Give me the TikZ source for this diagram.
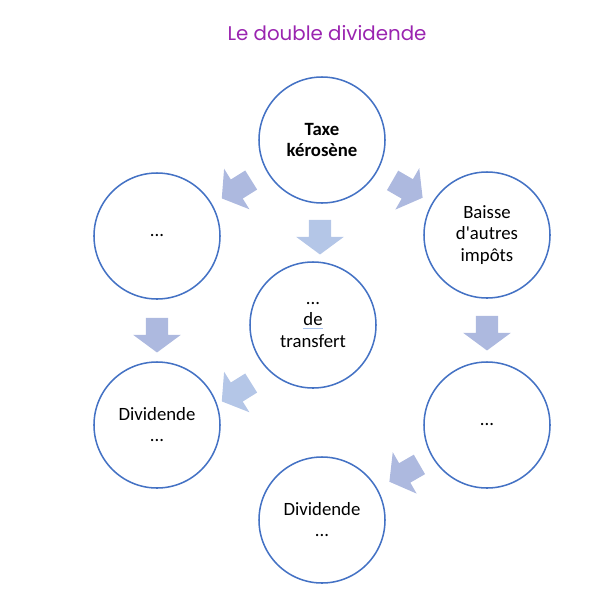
\documentclass[tikz,border=0pt]{standalone}
\usepackage{fontspec}
\defaultfontfeatures[\rmfamily,\sffamily]{}
\setmainfont{Carlito}
\newfontfamily\titrefont{Poppins}
\usetikzlibrary{shapes.arrows}
\definecolor{bord}{HTML}{4472C4}
\definecolor{flecheA}{HTML}{ADB9DF}
\definecolor{flecheB}{HTML}{B4C6E7}
\definecolor{titre}{HTML}{9A24B0}
\definecolor{souligne}{HTML}{A9C4EE}
\tikzset{
	etape/.style={draw=bord,line width=1.3pt,circle,minimum size=3.78cm,inner sep=0pt,align=center,
		font=\fontsize{16}{18}\selectfont},
	fleche/.style={single arrow,draw=none,fill=flecheA,inner xsep=0pt,inner ysep=0.33cm,
		minimum height=1.04cm,single arrow head extend=0.38cm,single arrow tip angle=107},
	claire/.style={fill=flecheB}
}

\begin{document}
\begin{tikzpicture}[x=0.03cm,y=-0.03cm]
            \useasboundingbox (0,0) rectangle (597,610);
            \node[font=\titrefont\fontsize{16.9}{20}\selectfont,text=titre] (titre) at (327,33) {Le double dividende};
            \node[etape,font=\fontsize{16}{18}\selectfont\bfseries] (taxe) at (322,140) {Taxe\\kérosène};
            \node[etape] (gauche) at (157,236) {...};
            \node[etape] (baisse) at (487,235) {Baisse\\d'autres\\impôts};
            \node[etape] (transfert) at (313,325) {...\\{\color{souligne}\underline{\color{black}de}}\\transfert};
            \node[etape] (divg) at (157,425) {Dividende\\...};
            \node[etape] (droite) at (487,425) {...};
            \node[etape] (divb) at (322,520) {Dividende\\...};
            \node[fleche,rotate=212] (f1) at (240,187) {};
            \node[fleche,rotate=-30] (f2) at (404,187) {};
            \node[fleche,claire,rotate=-90] (f3) at (320,233) {};
            \node[fleche,rotate=-90] (f4) at (157,331) {};
            \node[fleche,rotate=-90] (f5) at (487,329) {};
            \node[fleche,claire,rotate=212] (f6) at (240,390) {};
            \node[fleche,rotate=210] (f7) at (408,471) {};
        \end{tikzpicture}
\end{document}
